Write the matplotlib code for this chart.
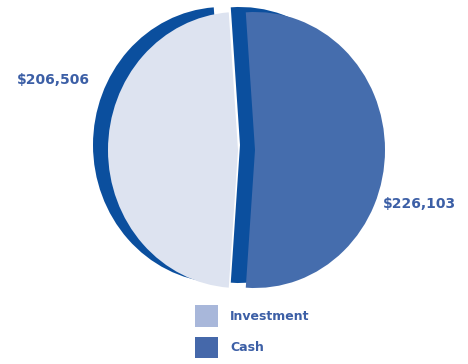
import matplotlib
matplotlib.use("Agg")
import matplotlib.pyplot as plt
from matplotlib.patches import Patch

# data
labels = ["Investment", "Cash"]
values = [206506, 226103]

# colours
face_colors = ["#dde3f0", "#456dad"]
side_color = "#0b4f9e"
legend_colors = ["#a8b7da", "#4568aa"]
text_color = "#3c5fa6"

W, H = 468, 364
fig = plt.figure(figsize=(W / 100, H / 100), dpi=100)
ax = fig.add_axes([0, 0, 1, 1])

# pie geometry in pixels (slightly tilted disc, cash slice pulled right)
Xi, Yc = 238, 150      # investment face centre
rx, ry = 130, 138
cash_shift = 17        # cash face offset to the right
side_dx, side_dy = -15, 5   # back face offset (left, up)

total = sum(values)
start = 90 + (180 - 360 * values[0] / total) / 2

def c(dx, dy):
    return (dx / rx, -dy / ry)

# back sides first, then faces
ax.pie(values, colors=[side_color, "none"], startangle=start,
       center=c(side_dx, -side_dy), wedgeprops=dict(linewidth=0))
ax.pie(values, colors=["none", side_color], startangle=start,
       center=c(cash_shift + side_dx, -side_dy), wedgeprops=dict(linewidth=0))
ax.pie(values, colors=[face_colors[0], "none"], startangle=start,
       center=c(0, 0), wedgeprops=dict(linewidth=0))
ax.pie(values, colors=["none", face_colors[1]], startangle=start,
       center=c(cash_shift, 0), wedgeprops=dict(linewidth=0))

ax.set_aspect("auto")
ax.set_xlim((0 - Xi) / rx, (W - Xi) / rx)
ax.set_ylim((Yc - H) / ry, Yc / ry)
ax.axis("off")

# value labels
fig.text(17 / W, 1 - 80 / H, f"${values[0]:,}", color=text_color,
         fontsize=10, fontweight="bold", ha="left", va="center")
fig.text(383 / W, 1 - 204 / H, f"${values[1]:,}", color=text_color,
         fontsize=10, fontweight="bold", ha="left", va="center")

# legend
fs = 9
fpx = fs * 100 / 72
handles = [Patch(facecolor=col, edgecolor="none") for col in legend_colors]
fig.legend(handles, labels, loc="upper left",
           bbox_to_anchor=(195 / W, 1 - 305 / H), frameon=False,
           prop=dict(size=fs, weight="bold"), labelcolor=text_color,
           handlelength=23 / fpx, handleheight=22 / fpx * 22 / 17,
           labelspacing=10 / fpx, handletextpad=12 / fpx,
           borderpad=0, borderaxespad=0)

fig.savefig("out.png", dpi=100)
